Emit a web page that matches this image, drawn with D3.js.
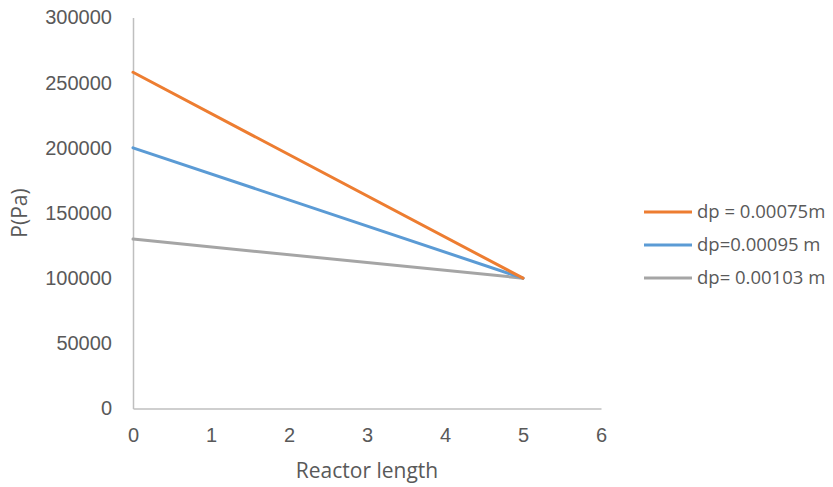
<!DOCTYPE html>
<html>
<head>
<meta charset="utf-8">
<script src="https://cdn.jsdelivr.net/npm/d3@7"></script>
<style>
  html, body { margin: 0; padding: 0; background: #fff; }
  svg { display: block; font-family: "Open Sans", "Noto Sans", sans-serif; }
</style>
</head>
<body>
<svg id="chart" width="833" height="487"></svg>
<script>
// Pressure drop along the reactor for three particle diameters
const seriesNames = ["dp = 0.00075m", "dp=0.00095 m", "dp= 0.00103 m"];
const seriesColors = ["#ED7D31", "#5B9BD5", "#A5A5A5"];
const lengthValues = [0, 5];
const pressureOrange = [258000, 100000];
const pressureBlue = [200000, 100000];
const pressureGray = [130000, 100000];
const xTicks = [0, 1, 2, 3, 4, 5, 6];
const yTicks = [0, 50000, 100000, 150000, 200000, 250000, 300000];

const series = [pressureOrange, pressureBlue, pressureGray].map((vals, i) => ({
  name: seriesNames[i],
  color: seriesColors[i],
  points: lengthValues.map((x, j) => ({ x, y: vals[j] }))
}));

const svg = d3.select("#chart");
const plot = { left: 133, right: 601, top: 17.5, bottom: 408.5 };

const x = d3.scaleLinear().domain([0, 6]).range([plot.left, plot.right]);
const y = d3.scaleLinear().domain([0, 300000]).range([plot.bottom, plot.top]);

const labelColor = "#595959";
const axisColor = "#BFBFBF";

// x axis
const xAxis = svg.append("g")
  .attr("transform", `translate(0,${plot.bottom})`)
  .call(d3.axisBottom(x).tickValues(xTicks).tickSize(0).tickPadding(19).tickFormat(d3.format("d")));
xAxis.select(".domain").attr("stroke", axisColor).attr("stroke-width", 1.5);
xAxis.selectAll("text").attr("fill", labelColor).style("font-size", "20px");

// y axis
const yAxis = svg.append("g")
  .attr("transform", `translate(${plot.left},0)`)
  .call(d3.axisLeft(y).tickValues(yTicks).tickSize(0).tickPadding(21).tickFormat(d3.format("d")));
yAxis.select(".domain").attr("stroke", axisColor).attr("stroke-width", 1.5);
yAxis.selectAll("text").attr("fill", labelColor).style("font-size", "20px");

// series lines
const line = d3.line().x(d => x(d.x)).y(d => y(d.y));
svg.append("g").selectAll("path")
  .data(series.slice().reverse())
  .join("path")
  .attr("d", d => line(d.points))
  .attr("fill", "none")
  .attr("stroke", d => d.color)
  .attr("stroke-width", 3)
  .attr("stroke-linecap", "round");

// axis titles
svg.append("text")
  .attr("x", 367)
  .attr("y", 478)
  .attr("text-anchor", "middle")
  .attr("fill", labelColor)
  .style("font-size", "21px")
  .text("Reactor length");

svg.append("text")
  .attr("transform", `translate(27,${(plot.top + plot.bottom) / 2}) rotate(-90)`)
  .attr("text-anchor", "middle")
  .attr("fill", labelColor)
  .style("font-size", "21px")
  .text("P(Pa)");

// legend
const legend = svg.append("g");
const rows = legend.selectAll("g")
  .data(series)
  .join("g")
  .attr("transform", (d, i) => `translate(644,${212 + i * 33})`);
rows.append("line")
  .attr("x1", 0).attr("x2", 48)
  .attr("stroke", d => d.color)
  .attr("stroke-width", 3);
rows.append("text")
  .attr("x", 53)
  .attr("dy", "0.35em")
  .attr("fill", labelColor)
  .style("font-size", "18.5px")
  .text(d => d.name);
</script>
</body>
</html>
